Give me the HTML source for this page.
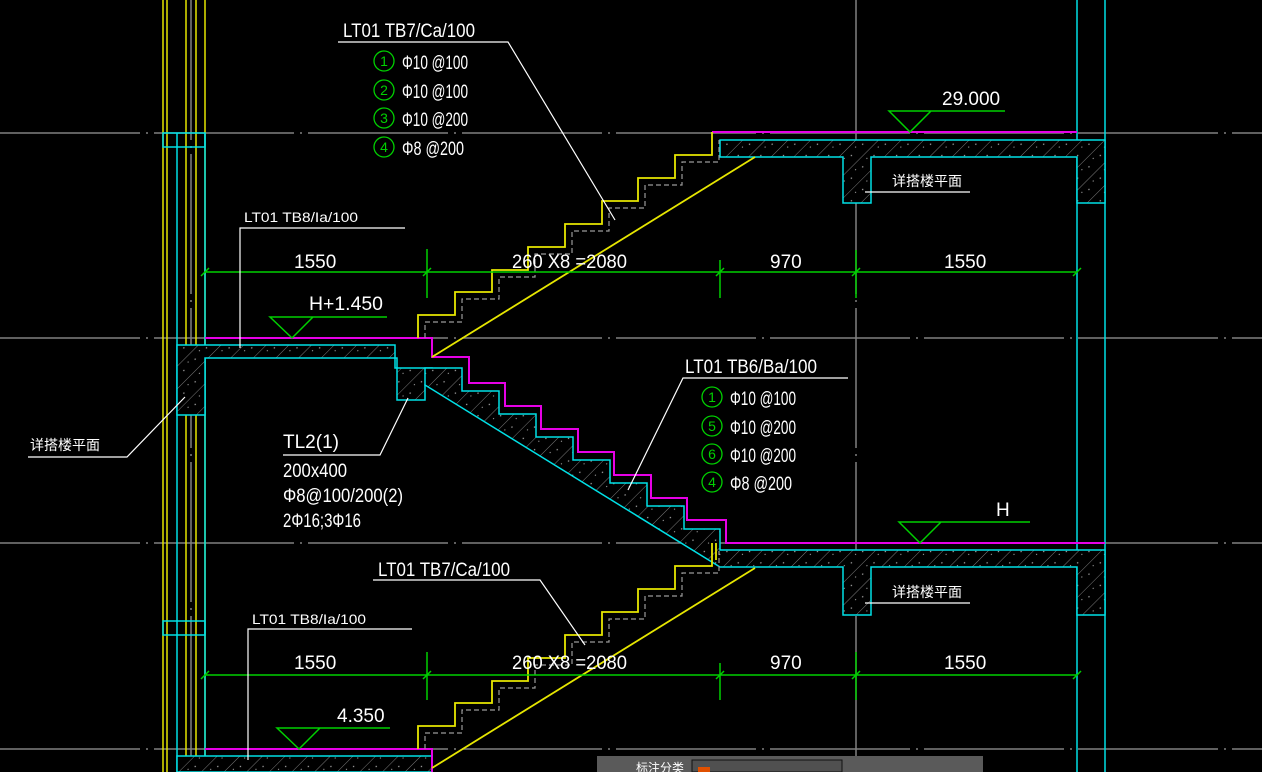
<!DOCTYPE html>
<html><head><meta charset="utf-8"><style>
html,body{margin:0;padding:0;background:#000;}
svg{display:block}
text{font-family:"Liberation Sans","Noto Sans CJK SC",sans-serif;fill:#fff;}
</style></head><body>
<svg width="1262" height="772" viewBox="0 0 1262 772" xmlns="http://www.w3.org/2000/svg">
<defs>
<pattern id="h" width="16" height="16" patternUnits="userSpaceOnUse" patternTransform="rotate(45)">
<rect width="16" height="16" fill="#000"/><line x1="0" y1="0" x2="0" y2="16" stroke="#7a7a7a" stroke-width="1"/>
<circle cx="8" cy="4" r="0.7" fill="#aaa"/><circle cx="5" cy="11" r="0.6" fill="#aaa"/>
</pattern>
</defs>
<rect width="1262" height="772" fill="#000"/>
<g stroke="#808080" stroke-width="1.5" stroke-dasharray="140,6,2,6">
<line x1="0" y1="133" x2="1262" y2="133"/>
<line x1="0" y1="338" x2="1262" y2="338"/>
<line x1="0" y1="543" x2="1262" y2="543"/>
<line x1="0" y1="749" x2="1262" y2="749"/>
<line x1="856" y1="0" x2="856" y2="772"/>
<line x1="191" y1="0" x2="191" y2="772"/>
</g>
<g stroke="#e6e600" stroke-width="1.5" fill="none">
<line x1="163" y1="0" x2="163" y2="772"/><line x1="167" y1="0" x2="167" y2="772"/>
<line x1="186" y1="0" x2="186" y2="772"/><line x1="196" y1="0" x2="196" y2="772"/>
<line x1="205" y1="0" x2="205" y2="772"/>
</g>
<g stroke="#00e0e6" stroke-width="1.5" fill="none">
<rect x="163" y="133" width="42" height="14"/>
<line x1="177" y1="133" x2="177" y2="772"/><line x1="205" y1="133" x2="205" y2="772"/>
<rect x="163" y="621" width="42" height="14"/>
<line x1="1077" y1="0" x2="1077" y2="772"/><line x1="1105" y1="0" x2="1105" y2="772"/>
</g>
<g fill="url(#h)" stroke="#00e0e6" stroke-width="1.5">
<path d="M720,140 L1105,140 L1105,203 L1077,203 L1077,157 L871,157 L871,203 L843,203 L843,157 L755,157 L720,157 Z"/>
<path d="M177,345 L395,345 L395,368 L432,368 L432,385 L425,385 L425,400 L397,400 L397,358 L205,358 L205,415 L177,415 Z"/>
<path d="M425,368 L462,368 L462,391 L499,391 L499,414 L536,414 L536,437 L573,437 L573,460 L610,460 L610,483 L647,483 L647,506 L684,506 L684,529 L720,529 L720,550 L1105,550 L1105,615 L1077,615 L1077,567 L871,567 L871,615 L843,615 L843,567 L720,567 L425,385 Z"/>
<path d="M177,756 L432,756 L432,772 L177,772 Z"/>
</g>
<g stroke="#e600e6" stroke-width="2" fill="none">
<line x1="712" y1="132" x2="1077" y2="132"/>
<path d="M205,338 L432,338 L432,357 L469,357 L469,383 L505,383 L505,406 L541,406 L541,429 L578,429 L578,452 L614,452 L614,475 L651,475 L651,498 L687,498 L687,520 L726,520 L726,543 L1105,543"/>
<path d="M205,749 L432,749 L432,772"/>
</g>
<g stroke="#e6e600" stroke-width="1.8" fill="none">
<path d="M418,338 L418,315 L455,315 L455,292 L492,292 L492,270 L528,270 L528,247 L565,247 L565,224 L602,224 L602,201 L638,201 L638,178 L675,178 L675,155 L712,155 L712,132"/>
<line x1="432" y1="357" x2="755" y2="157"/>
<path d="M418,749 L418,726 L455,726 L455,703 L492,703 L492,681 L528,681 L528,658 L565,658 L565,635 L602,635 L602,612 L638,612 L638,589 L675,589 L675,566 L712,566 L712,543"/>
<line x1="432" y1="768" x2="755" y2="568"/>
<line x1="716" y1="543" x2="716" y2="560"/>
</g>
<g stroke="#9a9a9a" stroke-width="1.2" stroke-dasharray="5,3" fill="none">
<path d="M425,338 L425,322 L462,322 L462,299 L499,299 L499,277 L535,277 L535,254 L572,254 L572,231 L609,231 L609,208 L645,208 L645,185 L682,185 L682,162 L719,162 L719,140"/>
<path d="M425,749 L425,733 L462,733 L462,710 L499,710 L499,688 L535,688 L535,665 L572,665 L572,642 L609,642 L609,619 L645,619 L645,596 L682,596 L682,573 L719,573 L719,551"/>
</g>
<g stroke="#00d000" stroke-width="1.5" fill="none">
<line x1="205" y1="272" x2="1077" y2="272"/>
<line x1="427" y1="249" x2="427" y2="298"/>
<line x1="720" y1="260" x2="720" y2="298"/>
<line x1="856" y1="250" x2="856" y2="298"/>
<path d="M201,276 L209,268 M423,276 L431,268 M716,276 L724,268 M852,276 L860,268 M1073,276 L1081,268"/>
<line x1="205" y1="675" x2="1077" y2="675"/>
<line x1="427" y1="652" x2="427" y2="700"/>
<line x1="720" y1="663" x2="720" y2="700"/>
<line x1="856" y1="652" x2="856" y2="700"/>
<path d="M201,679 L209,671 M423,679 L431,671 M716,679 L724,671 M852,679 L860,671 M1073,679 L1081,671"/>
<path d="M387,317 L270,317 L292,338 L313,317"/>
<path d="M1005,111 L889,111 L910,132 L931,111"/>
<path d="M1030,522 L899,522 L920,543 L941,522"/>
<path d="M390,728 L277,728 L299,749 L320,728"/>
</g>
<g stroke="#fff" stroke-width="1.2" fill="none">
<path d="M338,42 L508,42 L615,220"/>
<path d="M405,228 L240,228 L240,348"/>
<path d="M848,378 L683,378 L628,490"/>
<path d="M283,455 L380,455 L408,398"/>
<path d="M28,457 L127,457 L185,397"/>
<line x1="865" y1="192" x2="970" y2="192"/>
<line x1="865" y1="603" x2="970" y2="603"/>
<path d="M373,580 L540,580 L585,645"/>
<path d="M412,629 L248,629 L248,760"/>
</g>
<g stroke="#00d000" stroke-width="1.3" fill="none">
<circle cx="384" cy="61" r="10"/><circle cx="384" cy="90" r="10"/><circle cx="384" cy="118" r="10"/><circle cx="384" cy="147" r="10"/>
<circle cx="712" cy="397" r="10"/><circle cx="712" cy="426" r="10"/><circle cx="712" cy="454" r="10"/><circle cx="712" cy="482" r="10"/>
</g>
<g font-size="14" text-anchor="middle">
<text x="384" y="66" style="fill:#00d000">1</text><text x="384" y="95" style="fill:#00d000">2</text><text x="384" y="123" style="fill:#00d000">3</text><text x="384" y="152" style="fill:#00d000">4</text>
<text x="712" y="402" style="fill:#00d000">1</text><text x="712" y="431" style="fill:#00d000">5</text><text x="712" y="459" style="fill:#00d000">6</text><text x="712" y="487" style="fill:#00d000">4</text>
</g>
<g font-size="19">
<text x="343" y="37" textLength="132" lengthAdjust="spacingAndGlyphs">LT01 TB7/Ca/100</text>
<text x="402" y="69" textLength="66" lengthAdjust="spacingAndGlyphs">Φ10 @100</text><text x="402" y="98" textLength="66" lengthAdjust="spacingAndGlyphs">Φ10 @100</text><text x="402" y="126" textLength="66" lengthAdjust="spacingAndGlyphs">Φ10 @200</text><text x="402" y="155" textLength="62" lengthAdjust="spacingAndGlyphs">Φ8 @200</text>
<text x="685" y="373" textLength="132" lengthAdjust="spacingAndGlyphs">LT01 TB6/Ba/100</text>
<text x="730" y="405" textLength="66" lengthAdjust="spacingAndGlyphs">Φ10 @100</text><text x="730" y="434" textLength="66" lengthAdjust="spacingAndGlyphs">Φ10 @200</text><text x="730" y="462" textLength="66" lengthAdjust="spacingAndGlyphs">Φ10 @200</text><text x="730" y="490" textLength="62" lengthAdjust="spacingAndGlyphs">Φ8 @200</text>
<text x="378" y="576" textLength="132" lengthAdjust="spacingAndGlyphs">LT01 TB7/Ca/100</text>
<text x="294" y="268">1550</text><text x="512" y="268" textLength="115" lengthAdjust="spacingAndGlyphs">260 X8 =2080</text><text x="770" y="268">970</text><text x="944" y="268">1550</text>
<text x="294" y="669">1550</text><text x="512" y="669" textLength="115" lengthAdjust="spacingAndGlyphs">260 X8 =2080</text><text x="770" y="669">970</text><text x="944" y="669">1550</text>
<text x="309" y="310" textLength="74" lengthAdjust="spacingAndGlyphs">H+1.450</text><text x="942" y="105">29.000</text><text x="996" y="516">H</text><text x="337" y="722">4.350</text>
<text x="283" y="448" textLength="56" lengthAdjust="spacingAndGlyphs">TL2(1)</text><text x="283" y="477" textLength="64" lengthAdjust="spacingAndGlyphs">200x400</text><text x="283" y="502" textLength="120" lengthAdjust="spacingAndGlyphs">Φ8@100/200(2)</text><text x="283" y="527" textLength="78" lengthAdjust="spacingAndGlyphs">2Φ16;3Φ16</text>
</g>
<g font-size="14">
<text x="244" y="222" textLength="114" lengthAdjust="spacingAndGlyphs">LT01 TB8/Ia/100</text>
<text x="252" y="624" textLength="114" lengthAdjust="spacingAndGlyphs">LT01 TB8/Ia/100</text>
<text x="30" y="450">详搭楼平面</text>
<text x="892" y="186">详搭楼平面</text>
<text x="892" y="597">详搭楼平面</text>
</g>
<rect x="597" y="756" width="386" height="16" fill="#5a5a5a"/>
<rect x="692" y="760" width="150" height="12" fill="#505050" stroke="#111"/>
<rect x="698" y="767" width="12" height="5" fill="#e05000"/>
<text x="636" y="772" font-size="12">标注分类</text>
</svg>
</body></html>
